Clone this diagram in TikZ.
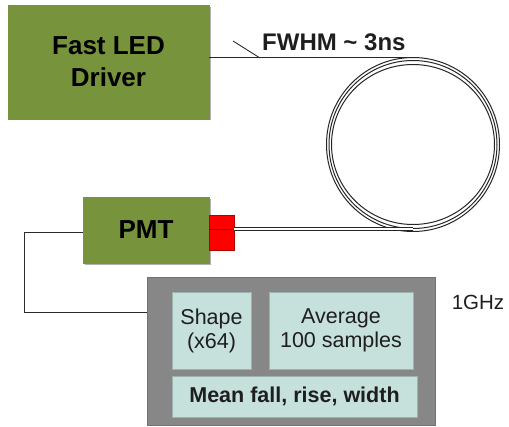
\documentclass[tikz,border=0pt]{standalone}
\usepackage{fontspec}
\setmainfont{Liberation Sans}
\definecolor{olive}{HTML}{77933C}
\definecolor{procgray}{HTML}{878787}
\definecolor{procedge}{HTML}{727272}
\definecolor{paleteal}{HTML}{C6E0DC}
\definecolor{tealedge}{HTML}{9DB3B0}
\definecolor{wire}{HTML}{2B2B2B}
\definecolor{txt}{HTML}{1E1E1E}
\begin{document}
\begin{tikzpicture}[x=1pt,y=-1pt,
  greenbox/.style={fill=olive, draw=olive, inner sep=0pt, align=center,
     font=\bfseries\fontsize{26}{32}\selectfont, text=black},
  tealbox/.style={fill=paleteal, draw=tealedge, line width=0.6pt, inner sep=0pt,
     align=center, text=txt, font=\fontsize{21.5}{24}\selectfont},
  wireline/.style={draw=wire, line width=0.9pt},
  fibre/.style={draw=black!85, line width=1pt}]
\useasboundingbox (0,0) rectangle (509,426);
% shadows
\fill[black!30] (9.5,7) rectangle (210.5,120);
\fill[black!30] (84.5,199) rectangle (210.5,264.5);
% boxes
\node[greenbox, minimum width=201pt, minimum height=114pt] (led) at (108.5,62) {Fast LED\\Driver};
\node[greenbox, minimum width=126pt, minimum height=66pt] (pmt) at (146,230) {PMT};
\node[fill=red, draw=red!70!black, line width=0.5pt, minimum width=25pt, minimum height=35pt, inner sep=0pt] (red) at (221.5,232.5) {};
\node[fill=procgray, draw=procedge, line width=0.8pt, minimum width=288pt, minimum height=148pt, inner sep=0pt] (proc) at (291,351.5) {};
\node[tealbox, minimum width=79pt, minimum height=77pt] (shape) at (211.5,330.5) {Shape\\(x64)};
\node[tealbox, minimum width=144pt, minimum height=77pt] (avg) at (341,330.5) {Average\\100 samples};
\node[tealbox, minimum width=245pt, minimum height=41pt, font=\bfseries\fontsize{21.5}{24}\selectfont] (mean) at (294.5,396.5) {Mean fall, rise, width};
\node[anchor=center, font=\fontsize{20.5}{24}\selectfont, text=txt] (ghz) at (478,302) {1GHz};
\node[anchor=base west, inner sep=0pt, font=\bfseries\fontsize{24}{28}\selectfont, text=txt] (fwhm) at (262,50) {FWHM \char`~{} 3ns};
% fibre coil
\coordinate (coil) at (413,144.5);
\coordinate (ctop) at (413,57.5);
\coordinate (cbot) at (413,229);
\coordinate (tickA) at (233,41);
\coordinate (tickB) at (260,58);
\draw[fibre] (coil) circle[x radius=86.5pt, y radius=87pt];
\draw[fibre] (coil) circle[x radius=84pt, y radius=84pt];
\draw[fibre] (coil) circle[x radius=81.5pt, y radius=80pt];
\draw[fibre] (led.east|-ctop) -- (ctop);
\draw[wireline] (tickA) -- (tickB);
\draw[fibre, line width=0.8pt] (pmt.east|-cbot) -- (red.east|-cbot);
\draw[fibre, double=white, double distance=2.6pt, line width=0.8pt] (red.east|-cbot) -- (cbot);
% signal wire
\coordinate (bend1) at (24,232);
\coordinate (bend2) at (24,312);
\draw[wireline] (pmt.west|-bend1) -- (bend1) -- (bend2) -- (proc.west|-bend2);
\end{tikzpicture}
\end{document}
